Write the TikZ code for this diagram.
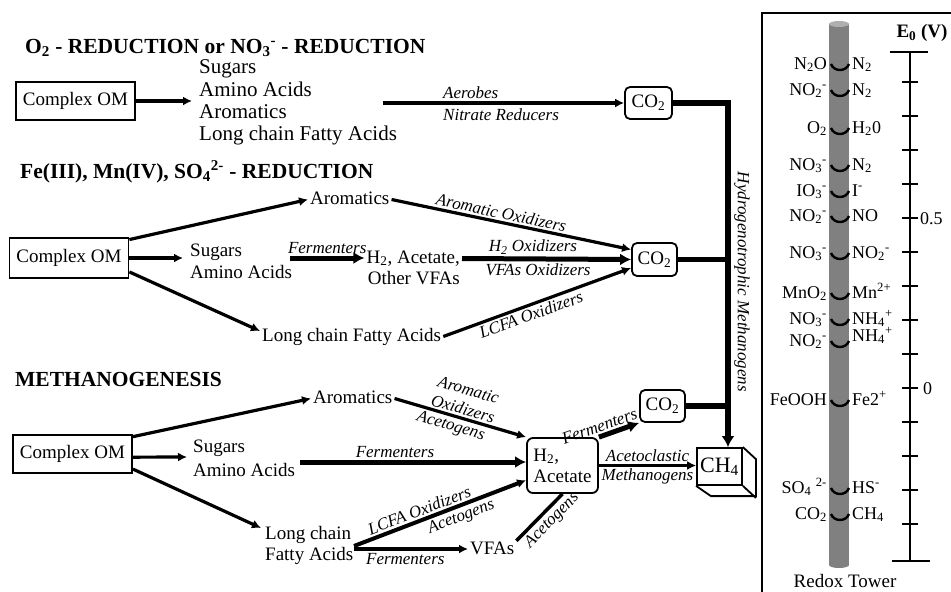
\documentclass[tikz,border=0pt]{standalone}
\usepackage{fontspec}
\setmainfont{Liberation Serif}
\usetikzlibrary{arrows.meta}
\newcommand\fsz[2]{\fontsize{#1}{#2}\selectfont}
\definecolor{towergray}{RGB}{128,128,128}
\definecolor{towercap}{RGB}{175,175,175}
\newcommand\rrow[5]{%
  \node[rx, anchor=base east] (#1l) at (827,#2) {#4};
  \node[rx, anchor=base west] (#1r) at (852,#3) {#5};
  \draw[couple] (831,{#2-5}) .. controls (834,{#2+3}) and (846,{#2+3}) .. (849,{#2-5});
}
\begin{document}
\begin{tikzpicture}[x=1pt,y=-1pt,
  om/.style={draw, line width=1.8pt, minimum width=119pt, minimum height=38pt, inner sep=0pt, font=\fsz{19}{22}},
  cobox/.style={draw, line width=1.8pt, rounded corners=5pt, minimum width=45pt, minimum height=32pt, inner sep=0pt, font=\fsz{19}{22}},
  tx/.style={inner xsep=2pt, inner ysep=0pt, text height=13pt, text depth=4pt, font=\fsz{19}{21}},
  tl/.style={tx, font=\fsz{21}{23}},
  lb/.style={inner sep=2pt, font=\itshape\fsz{17}{20}},
  ttl/.style={anchor=base west, inner sep=0pt, font=\bfseries\fsz{21.5}{24}},
  rx/.style={inner sep=0pt, font=\fsz{18}{20}},
  ar/.style={line width=3.2pt, -{Latex[length=9pt,width=9pt]}},
  thk/.style={line width=5pt, -{Latex[length=11pt,width=12pt]}},
  bus/.style={line width=5.5pt},
  couple/.style={line width=2.4pt},
]
\useasboundingbox (0,0) rectangle (951,592);
\fill[white] (0,0) rectangle (951,592);

% ---------------- top section
\node[ttl] (t1) at (25,53) {O\textsubscript{2} - REDUCTION or NO\textsubscript{3}\textsuperscript{-} - REDUCTION};
\node[om] (om1) at (75.5,101) {Complex OM};
\node[tl, anchor=base west] (sug1) at (197,73) {Sugars};
\node[tl, anchor=base west] (ami1) at (197,96) {Amino Acids};
\node[tl, anchor=base west] (aro1) at (197,118) {Aromatics};
\node[tl, anchor=base west] (lcf1) at (197,140) {Long chain Fatty Acids};
\coordinate (e1) at (192,101);
\node[cobox, minimum width=47pt] (co2a) at (648.5,103) {CO\textsubscript{2}};
\coordinate (s1) at (383,103);
\node[lb, anchor=base west] (lae) at (441,98.5) {Aerobes};
\node[lb, anchor=base west] (lnr) at (441,120) {Nitrate Reducers};

% ---------------- middle section
\node[ttl] (t2) at (20,178) {Fe(III), Mn(IV), SO\textsubscript{4}\textsuperscript{2-} - REDUCTION};
\node[om, minimum height=40pt] (om2) at (69,258) {Complex OM};
\node[tx, anchor=base west] (aro2) at (308,204) {Aromatics};
\node[tx, anchor=base west] (sug2) at (188,256) {Sugars};
\node[tx, anchor=base west] (ami2) at (188,278) {Amino Acids};
\node[tx, anchor=base east] (h2a2) at (462,263) {H\textsubscript{2}, Acetate,};
\node[tx, anchor=base east] (ovf2) at (462,284) {Other VFAs};
\node[tx, anchor=base west] (lcf2) at (260,341) {Long chain Fatty Acids};
\node[cobox, minimum height=33pt] (co2b) at (654.5,259.5) {CO\textsubscript{2}};
\coordinate (e2) at (183,258);
\coordinate (e3) at (260,331);
\coordinate (f2s) at (290,258);

% ---------------- bottom section
\node[ttl] (t3) at (15,386) {METHANOGENESIS};
\node[om] (om3) at (72.5,454) {Complex OM};
\node[tx, anchor=base west] (aro3) at (311,403) {Aromatics};
\node[tx, anchor=base west] (sug3) at (191,452) {Sugars};
\node[tx, anchor=base west] (ami3) at (191,476) {Amino Acids};
\node[tx, anchor=base west] (lc3) at (263,539) {Long chain};
\node[tx, anchor=base west] (fa3) at (263,560) {Fatty Acids};
\node[tx, anchor=base west] (vfa3) at (468,554) {VFAs};
\node[draw, line width=1.8pt, rounded corners=6pt, minimum width=71pt, minimum height=55pt, inner sep=0pt, align=left, font=\fsz{19}{21}] (h2b) at (562.5,465.5) {H\textsubscript{2},\\Acetate};
\node[cobox] (co2c) at (662.5,406) {CO\textsubscript{2}};
\node[draw, line width=1.8pt, minimum width=45pt, minimum height=37pt, inner sep=0pt, font=\fsz{22}{24}] (ch4) at (719.5,466.5) {CH\textsubscript{4}};
\draw[line width=1.8pt] (ch4.north east) -- ++(13,12) -- ++(0,37) -- ++(-45,0) -- (ch4.south west) (ch4.south east) -- ++(13,12);
\coordinate (e4) at (187,457);
\coordinate (e5) at (261,528);
\coordinate (f3s) at (300,462);
\coordinate (g1) at (354,546);
\coordinate (g2) at (354,549);

% ---------------- bus
\coordinate (b1) at (728,103);
\node[lb, rotate=-90] (hm) at (742,282) {Hydrogenotrophic Methanogens};

% ---------------- connectors top
\draw[ar] (om1.east) -- (e1);
\draw[ar] (s1) -- (co2a.west);
\draw[bus, -{Latex[length=11pt,width=13pt]}] (co2a.east) -- (b1) -- (b1 |- ch4.north);

% ---------------- connectors middle
\draw[ar] (om2.17) -- (aro2.west);
\draw[ar] (om2.east) -- (e2);
\draw[ar] (om2.-13) -- (e3);
\draw[thk] (f2s) -- node[lb, above] {Fermenters} (h2a2.west |- f2s);
\draw[ar] (aro2.east) -- node[lb, above, sloped, pos=0.45] {Aromatic Oxidizers} (co2b.157);
\draw[thk] (h2a2.east) -- node[lb, above, pos=0.42] {H\textsubscript{2} Oxidizers} node[lb, below, pos=0.45] {VFAs Oxidizers} (co2b.west);
\draw[ar] (lcf2.east) -- node[lb, below, sloped, pos=0.45] {LCFA Oxidizers} (co2b.200);
\draw[bus] (co2b.east) -- (b1 |- co2b.east);

% ---------------- connectors bottom
\draw[ar] (om3.16) -- (aro3.west);
\draw[ar] (om3.-3) -- (e4);
\draw[ar] (om3.-14) -- (e5);
\draw[thk] (f3s) -- node[lb, above, pos=0.42] {Fermenters} (h2b.west |- f3s);
\draw[ar] (aro3.east) -- node[lb, above, sloped, pos=0.5, align=center] {Aromatic\\Oxidizers} node[lb, below, sloped, pos=0.45] {Acetogens} (h2b.north west);
\draw[thk] (h2b.north east) -- node[lb, above, sloped, pos=0.1] {Fermenters} (co2c.south west);
\draw[bus] (co2c.east) -- (b1 |- co2c.east);
\draw[ar] (h2b.east) -- node[lb, above] {Acetoclastic} node[lb, below] {Methanogens} (h2b.east -| ch4.west);
\draw[ar, line width=4pt] (g1) -- node[lb, above, sloped, pos=0.4] {LCFA Oxidizers} node[lb, below, sloped, pos=0.6] {Acetogens} (h2b.202);
\draw[ar, line width=4pt] (g2) -- node[lb, below, pos=0.45] {Fermenters} (vfa3.west |- g2);
\draw[line width=3.5pt] (vfa3.north east) -- node[lb, below, sloped, pos=0.6] {Acetogens} (h2b.south);

% ---------------- redox tower
\draw[line width=1.8pt] (762,592) -- (762,13) -- (951,13);
\fill[towergray] (829,24) rectangle (849,565);
\fill[towergray] (839,565) ellipse (10 and 3);
\fill[towercap] (839,24) ellipse (10 and 3);
\node[inner sep=0pt, font=\bfseries\fsz{19}{21}] (e0) at (922,33) {E\textsubscript{0} (V)};
\draw[line width=1.3pt] (910,52) -- (910,561);
\draw[line width=1.3pt] (890,52) -- (928,52);
\draw[line width=1.3pt] (892,561) -- (930,561);
\foreach \k in {0,...,13} \draw[line width=1.3pt] (902,{82+34*\k}) -- (918,{82+34*\k});
\node[rx, anchor=west] (v05) at (920,219) {0.5};
\node[rx, anchor=west] (v0) at (923,389) {0};
\rrow{ra}{69}{69}{N\textsubscript{2}O}{N\textsubscript{2}}
\rrow{rb}{95}{95}{NO\textsubscript{2}\textsuperscript{-}}{N\textsubscript{2}}
\rrow{rc}{133}{133}{O\textsubscript{2}}{H\textsubscript{2}0}
\rrow{rd}{170}{170}{NO\textsubscript{3}\textsuperscript{-}}{N\textsubscript{2}}
\rrow{re}{196}{196}{IO\textsubscript{3}\textsuperscript{-}}{I\textsuperscript{-}}
\rrow{rf}{221}{221}{NO\textsubscript{2}\textsuperscript{-}}{NO}
\rrow{rg}{258}{258}{NO\textsubscript{3}\textsuperscript{-}}{NO\textsubscript{2}\textsuperscript{-}}
\rrow{rh}{298}{298}{MnO\textsubscript{2}}{Mn\textsuperscript{2+}}
\rrow{ri}{324}{324}{NO\textsubscript{3}\textsuperscript{-}}{NH\textsubscript{4}\textsuperscript{+}}
\rrow{rj}{346}{341}{NO\textsubscript{2}\textsuperscript{-}}{NH\textsubscript{4}\textsuperscript{+}}
\rrow{rk}{405}{405}{FeOOH}{Fe2\textsuperscript{+}}
\rrow{rl}{493}{493}{SO\textsubscript{4} \textsuperscript{2-}}{HS\textsuperscript{-}}
\rrow{rm}{519}{519}{CO\textsubscript{2}}{CH\textsubscript{4}}
\node[rx, anchor=base, font=\fsz{19}{21}] (rt) at (845,587) {Redox Tower};
\end{tikzpicture}
\end{document}
